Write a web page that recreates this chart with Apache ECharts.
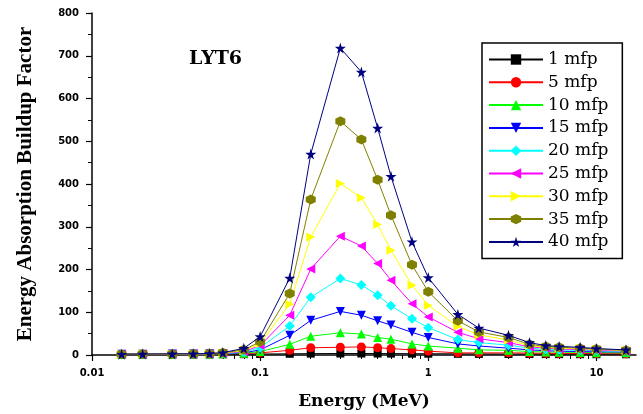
<!DOCTYPE html>
<html><head><meta charset="utf-8">
<script src="https://cdn.jsdelivr.net/npm/echarts/dist/echarts.min.js"></script>
<style>html,body{margin:0;padding:0;background:#fff;overflow:hidden}#c{width:643px;height:414px}</style>
</head><body><div id="c"></div>
<script>
// Photon energies (MeV)
const energies = [0.015,0.02,0.03,0.04,0.05,0.06,0.08,0.1,0.15,0.2,0.3,0.4,0.5,0.6,0.8,1,1.5,2,3,4,5,6,8,10,15];
const seriesNames = ['1 mfp','5 mfp','10 mfp','15 mfp','20 mfp','25 mfp','30 mfp','35 mfp','40 mfp'];
// Energy absorption buildup factors, one list per penetration depth
const mfp1  = [1.2,1.3,1.5,1.6,1.7,1.8,2.0,2.3,2.8,3.2,3.5,3.5,3.4,3.3,3.1,3.0,2.7,2.5,2.3,2.2,2.1,2.0,1.9,1.8,1.7];
const mfp5  = [1.3,1.5,1.8,2.0,2.2,2.5,3.5,5,11,17,18,19,17,15,12,9,5,5,5,4.5,4,3.8,3.5,3.3,3];
const mfp10 = [1.4,1.7,2,2.3,2.6,3,4,8,25,44,52,49,41,37,26,21,16,12,11,8,7,6.5,6,5.5,5];
const mfp15 = [1.5,1.8,2.1,2.5,2.8,3.3,5,12,46,81,102,93,80,70,53,41,26,21,16,12,10,9,8,7.5,7];
const mfp20 = [1.6,1.9,2.2,2.6,3,3.6,6.5,17,68,135,179,164,140,115,85,64,36,29,23,16,13,12,11,10,8.5];
const mfp25 = [1.7,2,2.3,2.7,3.1,4,8,22,93,201,278,255,214,175,120,89,53,38,29,19,16,14,13,11.5,9.5];
const mfp30 = [1.8,2.1,2.4,2.8,3.2,4.5,10,27,119,276,401,368,305,245,163,116,67,47,35,22,18,16,15,13,10.5];
const mfp35 = [1.9,2.2,2.5,2.9,3.3,5,12,31,144,364,547,504,410,327,211,148,80,54,41,25,20,18,16,14,11];
const mfp40 = [2,2.3,2.6,3,3.5,5.5,15.6,43,180,470,718,662,531,418,265,181,95,63,46,29,22,20,18,15,12];
const seriesValues = [mfp1,mfp5,mfp10,mfp15,mfp20,mfp25,mfp30,mfp35,mfp40];
// Axis tick labels
const xTickLabels = [0.01,0.1,1,10];
const xMinorTicks = [0.02,0.03,0.04,0.05,0.06,0.07,0.08,0.09,0.2,0.3,0.4,0.5,0.6,0.7,0.8,0.9,2,3,4,5,6,7,8,9];
const yTicks = [0,100,200,300,400,500,600,700,800];

const colors = ['#000000','#ff0000','#00ff00','#0000ff','#00ffff','#ff00ff','#ffff00','#808000','#000080'];
const symbols = [
  'rect','circle','triangle',
  'path://M0,0 L100,0 L50,100 Z',
  'diamond',
  'path://M0,50 L100,0 L100,100 Z',
  'path://M0,0 L100,50 L0,100 Z',
  'path://M50,0 L93,25 L93,75 L50,100 L7,75 L7,25 Z',
  'path://M50,0 L61,35 L98,35 L68,57 L79,91 L50,70 L21,91 L32,57 L2,35 L39,35 Z'
];
const symbolSizes = [8,9,9,9,10,9,9,10,11];

const series = seriesNames.map((name, i) => ({
  name: name,
  type: 'line',
  xAxisIndex: 0,
  data: energies.map((e, j) => [e, seriesValues[i][j]]),
  symbol: symbols[i],
  symbolSize: symbolSizes[i],
  showAllSymbol: true,
  lineStyle: { color: colors[i], width: 1 },
  itemStyle: { color: colors[i] },
  emphasis: { disabled: true },
  animation: false,
  z: 2 + i
}));

const axisFont = { fontFamily: 'DejaVu Sans', fontWeight: 'bold', fontSize: 10, color: '#000' };
const allXTicks = xTickLabels.concat(xMinorTicks).sort((a, b) => a - b);

const chart = echarts.init(document.getElementById('c'), null, { renderer: 'canvas' });
chart.setOption({
  backgroundColor: '#fff',
  animation: false,
  grid: { left: 92, right: 7, top: 13, bottom: 59, outerBoundsMode: 'none' },
  xAxis: [{
    type: 'log', logBase: 10, min: 0.01, max: 17.2,
    name: 'Energy (MeV)', nameLocation: 'middle', nameGap: 38,
    nameTextStyle: { fontFamily: 'DejaVu Serif', fontWeight: 'bold', fontSize: 17, color: '#000' },
    axisLine: { lineStyle: { color: '#000', width: 1.5 } },
    axisTick: { show: true, inside: false, length: 4, customValues: allXTicks, lineStyle: { color: '#000', width: 1 } },
    axisLabel: Object.assign({ customValues: xTickLabels, margin: 13, formatter: v => String(v) }, axisFont),
    splitLine: { show: false }, minorTick: { show: false }
  }, {
    type: 'log', logBase: 10, min: 0.01, max: 17.2, position: 'bottom',
    axisLine: { show: false },
    axisTick: { show: true, inside: false, length: 6, customValues: xTickLabels, lineStyle: { color: '#000', width: 1.2 } },
    axisLabel: { show: false }, splitLine: { show: false }
  }],
  yAxis: {
    type: 'value', min: yTicks[0], max: yTicks[yTicks.length - 1], interval: 100,
    name: 'Energy Absorption Buildup Factor', nameLocation: 'middle', nameGap: 56,
    nameTextStyle: { fontFamily: 'Liberation Serif', fontWeight: 'bold', fontSize: 21, color: '#000' },
    axisLine: { show: true, lineStyle: { color: '#000', width: 1.5 } },
    axisTick: { show: true, inside: false, length: 6, lineStyle: { color: '#000', width: 1.2 } },
    minorTick: { show: true, splitNumber: 2, length: 4, lineStyle: { color: '#000', width: 1 } },
    axisLabel: Object.assign({ margin: 13 }, axisFont),
    splitLine: { show: false }, minorSplitLine: { show: false }
  },
  legend: {
    orient: 'vertical', left: 482, top: 43,
    backgroundColor: '#fff', borderColor: '#000', borderWidth: 1.5,
    padding: [8, 14, 8, 6],
    itemWidth: 54, itemHeight: 13, itemGap: 5.8,
    selectedMode: false,
    textStyle: { fontFamily: 'DejaVu Serif', fontSize: 17, lineHeight: 17, color: '#000' },
    data: seriesNames
  },
  graphic: [{
    type: 'text', left: 189, top: 50, z: 10,
    style: { text: 'LYT6', fontFamily: 'DejaVu Serif', fontWeight: 'bold', fontSize: 19, fill: '#000' }
  }],
  series: series
});
</script></body></html>
